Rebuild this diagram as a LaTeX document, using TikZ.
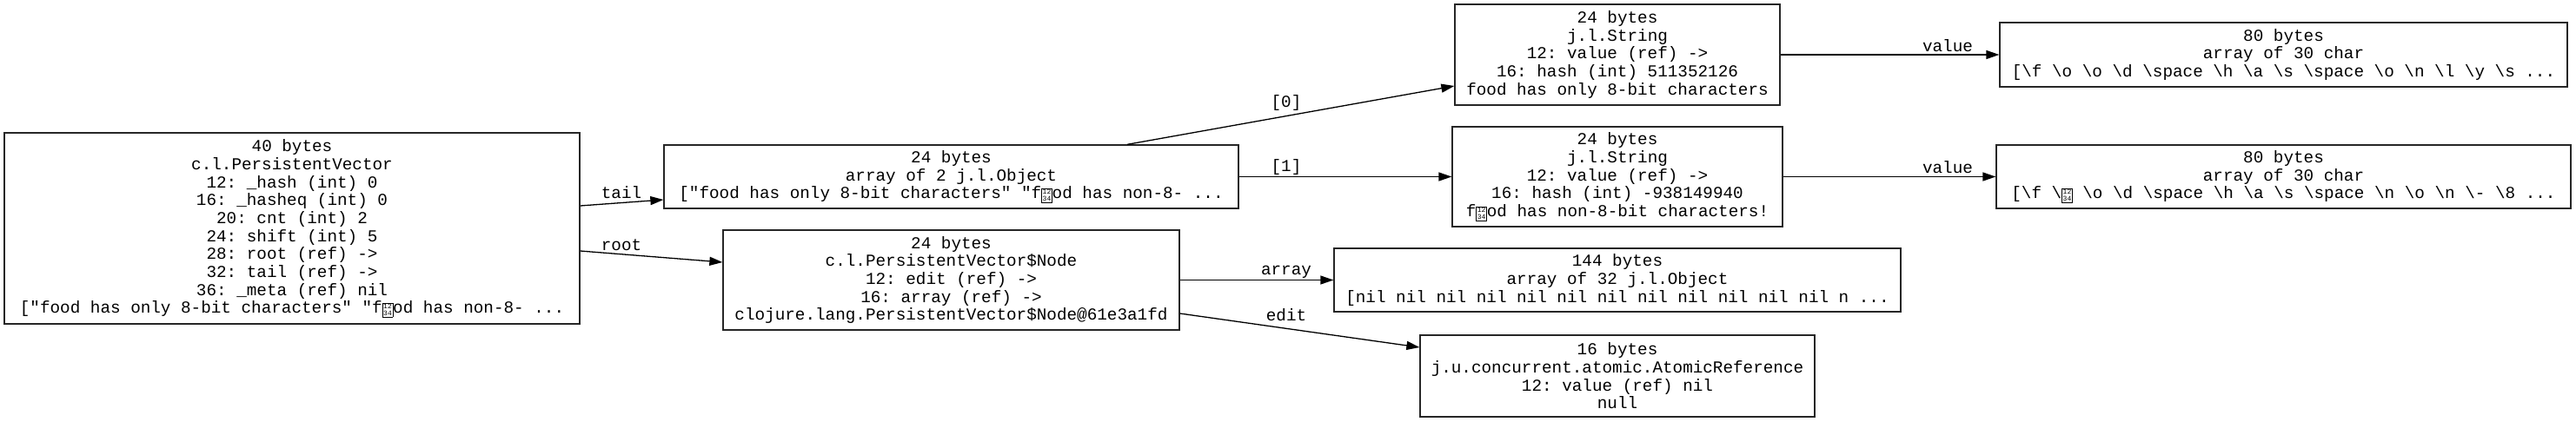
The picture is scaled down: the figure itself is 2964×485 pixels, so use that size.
\documentclass[tikz,border=0pt]{standalone}
\usepackage{fontspec}
\setmonofont{Liberation Mono}
\usetikzlibrary{arrows.meta}
\newcommand\bs{\textbackslash}
\newcommand\hexbox{\raisebox{-3pt}{\setlength{\fboxsep}{0.8pt}\setlength{\fboxrule}{0.6pt}\fbox{\fontsize{8}{7.2}\selectfont\shortstack{12\\34}}}}
\begin{document}
\begin{tikzpicture}[x=1pt,y=-1pt,
  font=\ttfamily\fontsize{19.3}{20.7}\selectfont,
  objbox/.style={draw=black!85, line width=1.3pt, inner sep=0pt, align=center},
  ref/.style={-{Triangle[length=15pt,width=10pt]}, line width=1.3pt},
  lbl/.style={inner sep=0pt}]
\useasboundingbox (0,0) rectangle (2964,485);

\node[objbox, minimum width=662pt, minimum height=220pt] (A) at (336,263)
 {40 bytes\\ c.l.PersistentVector\\ 12: \_hash (int) 0\\ 16: \_hasheq (int) 0\\ 20: cnt (int) 2\\ 24: shift (int) 5\\ 28: root (ref) ->\\ 32: tail (ref) ->\\ 36: \_meta (ref) nil\\ {[}"food has only 8-bit characters" "f\hexbox od has non-8- ...};

\node[objbox, minimum width=661pt, minimum height=73pt] (B) at (1094.5,203.5)
 {24 bytes\\ array of 2 j.l.Object\\ {[}"food has only 8-bit characters" "f\hexbox od has non-8- ...};

\node[objbox, minimum width=525pt, minimum height=115pt] (C) at (1094.5,322.5)
 {24 bytes\\ c.l.PersistentVector\$Node\\ 12: edit (ref) ->\\ 16: array (ref) ->\\ clojure.lang.PersistentVector\$Node@61e3a1fd};

\node[objbox, minimum width=374pt, minimum height=116pt] (D) at (1861,63)
 {24 bytes\\ j.l.String\\ 12: value (ref) ->\\ 16: hash (int) 511352126\\ food has only 8-bit characters};

\node[objbox, minimum width=380pt, minimum height=115pt] (E) at (1861,203.5)
 {24 bytes\\ j.l.String\\ 12: value (ref) ->\\ 16: hash (int) -938149940\\ f\hexbox od has non-8-bit characters!};

\node[objbox, minimum width=652pt, minimum height=73pt] (H) at (1861,322.5)
 {144 bytes\\ array of 32 j.l.Object\\ {[}nil nil nil nil nil nil nil nil nil nil nil nil n ...};

\node[objbox, minimum width=454pt, minimum height=94pt] (I) at (1861,433)
 {16 bytes\\ j.u.concurrent.atomic.AtomicReference\\ 12: value (ref) nil\\ null};

\node[objbox, minimum width=653pt, minimum height=74pt] (F) at (2627.5,63)
 {80 bytes\\ array of 30 char\\ {[}\bs f \bs o \bs o \bs d \bs space \bs h \bs a \bs s \bs space \bs o \bs n \bs l \bs y \bs s ...};

\node[objbox, minimum width=661pt, minimum height=73pt] (G) at (2627.5,203.5)
 {80 bytes\\ array of 30 char\\ {[}\bs f \bs\hexbox{} \bs o \bs d \bs space \bs h \bs a \bs s \bs space \bs n \bs o \bs n \bs - \bs 8 ...};

\draw[ref] ([yshift=26pt]A.east) -- ([yshift=-26.5pt]B.west);
\draw[ref] ([yshift=-26pt]A.east) -- ([yshift=20.5pt]C.west);
\draw[ref] ([xshift=202.5pt]B.north) -- ([yshift=-36pt]D.west);
\draw[ref] (B.east) -- (E.west);
\draw[ref] (C.east) -- (H.west);
\draw[ref] ([yshift=-38.5pt]C.east) -- ([yshift=33pt]I.west);
\draw[ref] (D.east) -- (F.west);
\draw[ref] (E.east) -- (G.west);

\node[lbl] (ltail) at (715,222) {tail};
\node[lbl] (lroot) at (715,282) {root};
\node[lbl] (l0) at (1480,119) {[0]};
\node[lbl] (l1) at (1480,193) {[1]};
\node[lbl] (larray) at (1480,313) {array};
\node[lbl] (ledit) at (1480,363) {edit};
\node[lbl] (lv1) at (2241,53) {value};
\node[lbl] (lv2) at (2241,193) {value};
\end{tikzpicture}
\end{document}
